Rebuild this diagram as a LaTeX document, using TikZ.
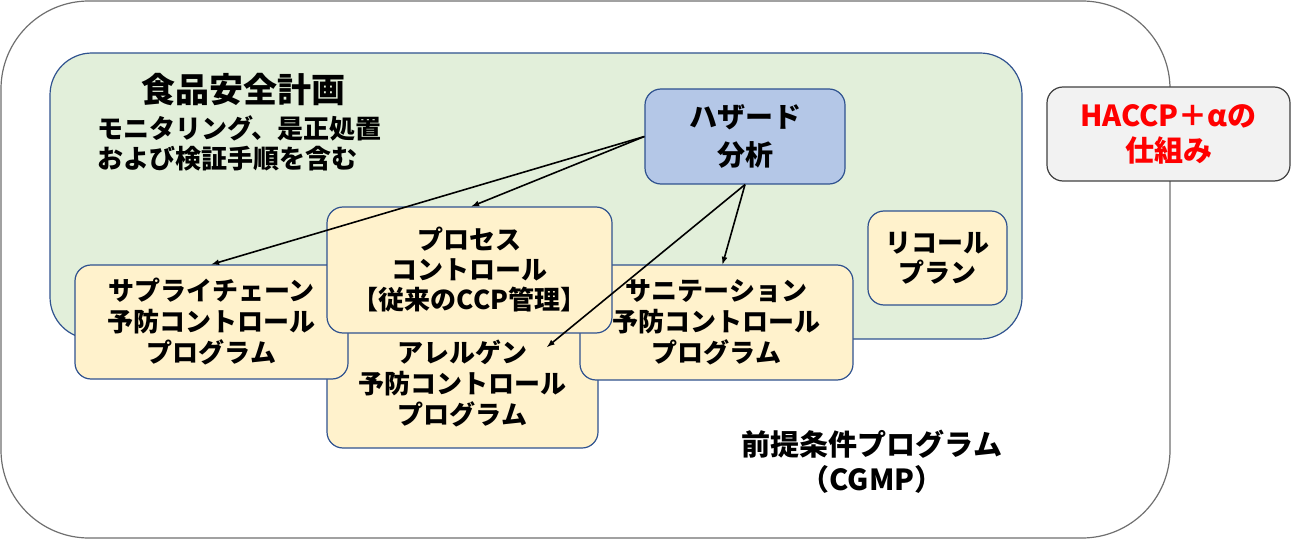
\documentclass[tikz,border=0pt]{standalone}
\usepackage{fontspec}
\setmainfont{Noto Sans CJK JP}
\usetikzlibrary{calc,shapes,arrows}

\definecolor{edgeblue}{HTML}{2F528F}
\definecolor{plangreen}{HTML}{E2EFDA}
\definecolor{hazardblue}{HTML}{B4C7E7}
\definecolor{boxyellow}{HTML}{FFF2CC}
\definecolor{haccpgray}{HTML}{F2F2F2}
\definecolor{outergray}{HTML}{6F6F6F}

\begin{document}
\begin{tikzpicture}[x=1pt,y=-1pt,
  box/.style={draw=edgeblue, line width=1.2pt, rounded corners=16pt, fill=boxyellow,
    align=center, inner sep=0pt, font=\bfseries\fontsize{26}{31}\selectfont},
  link/.style={-latex, line width=1.6pt}]
  \useasboundingbox (0,0) rectangle (1292,540);

  \draw [draw=outergray, line width=1.2pt, rounded corners=88pt] (1,1) rectangle (1170,538);

  \node [draw=edgeblue, line width=1.2pt, fill=plangreen, rounded corners=42pt,
    minimum width=972pt, minimum height=286pt, inner sep=0pt] (plan) at (536,196) {};
  \node [font=\bfseries\fontsize{34}{40}\selectfont] (plantitle) at (243,90) {食品安全計画};
  \node [anchor=west, align=left, inner sep=0pt, font=\bfseries\fontsize{26}{30}\selectfont]
    (plannote) at (97,143) {モニタリング、是正処置\\および検証手順を含む};

  \node [box, minimum width=271pt, minimum height=128pt] (allergen) at (462.5,384)
    {アレルゲン\\予防コントロール\\プログラム};
  \node [box, minimum width=273pt, minimum height=114pt] (supply) at (211.5,322)
    {サプライチェーン\\予防コントロール\\プログラム};
  \node [box, minimum width=273pt, minimum height=115pt] (sanitation) at (716.5,322.5)
    {サニテーション\\予防コントロール\\プログラム};
  \node [box, minimum width=285pt, minimum height=126pt, font=\bfseries\fontsize{26}{30}\selectfont]
    (process) at (469.5,270) {プロセス\\コントロール\\【従来のCCP管理】};
  \node [box, minimum width=139pt, minimum height=94pt, font=\bfseries\fontsize{26}{30}\selectfont]
    (recall) at (937.5,258) {リコール\\プラン};
  \node [box, fill=hazardblue, minimum width=200pt, minimum height=95pt,
    font=\bfseries\fontsize{28}{38}\selectfont] (hazard) at (745,136.5) {ハザード\\分析};

  \node [box, draw=black!75, fill=haccpgray, text=red, minimum width=243pt, minimum height=94pt,
    font=\bfseries\fontsize{29}{35}\selectfont] (haccp) at (1168.5,134) {HACCP＋αの\\仕組み};

  \node [align=center, font=\bfseries\fontsize{29}{35}\selectfont] (prereq) at (872,462)
    {前提条件プログラム\\（CGMP）};

  \coordinate (allergentip) at (547,347);
  \draw [link] (hazard.west) -- (supply.north);
  \draw [link] (hazard.west) -- ([xshift=2pt]process.north);
  \draw [link] (hazard.south) -- ([xshift=6pt]sanitation.north);
  \draw [link] (hazard.south) -- (allergentip);
\end{tikzpicture}
\end{document}
